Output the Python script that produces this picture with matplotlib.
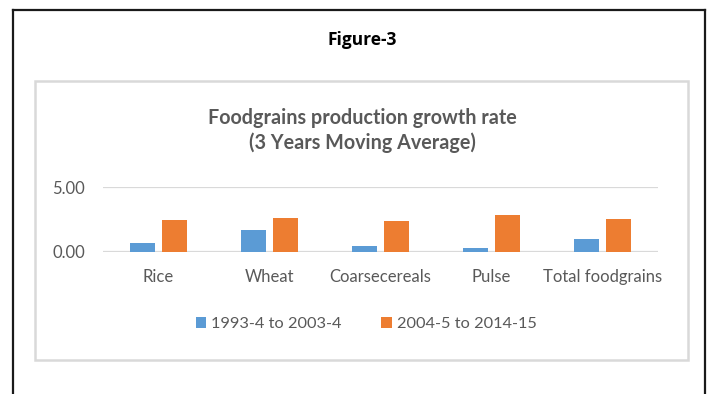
#!/usr/bin/env python3
"""Foodgrains production growth rate, grouped bar chart (3-year moving average)."""

import matplotlib
matplotlib.use("Agg")
import matplotlib.pyplot as plt
from matplotlib.lines import Line2D
from matplotlib.patches import Rectangle
import numpy as np

# ─── DATA ──────────────────────────────────────────────────────────────────────
CATEGORIES = ["Rice", "Wheat", "Coarsecereals", "Pulse", "Total foodgrains"]
PERIOD_1 = [0.69, 1.69, 0.46, 0.31, 1.00]   # 1993-4 to 2003-4
PERIOD_2 = [2.46, 2.62, 2.38, 2.85, 2.54]   # 2004-5 to 2014-15
SERIES_LABELS = ["1993-4 to 2003-4", "2004-5 to 2014-15"]
Y_TICKS = [0, 5]
# ────────────────────────────────────────────────────────────────────────────────

W, H = 708, 394
BLUE = "#5b9bd5"
ORANGE = "#ed7d31"
GREY_TXT = "#595959"
GRID = "#d9d9d9"

plt.rcParams["font.family"] = ["Lato", "DejaVu Sans"]

fig = plt.figure(figsize=(W / 100, H / 100), dpi=100)
fig.patch.set_facecolor("white")


def fx(px):
    return px / W


def fy(py):
    return 1 - py / H


# outer black frame (open at the bottom)
for xs, ys in [((13, 13), (10, H + 5)), ((13, 705), (10, 10)), ((705, 705), (10, H + 5))]:
    fig.add_artist(Line2D([fx(x) for x in xs], [fy(y) for y in ys],
                          transform=fig.transFigure, color="#1a1a1a", lw=1.6))

# light grey chart-area frame
fig.add_artist(Rectangle((fx(35), fy(360)), fx(688) - fx(35), fy(81) - fy(360),
                         transform=fig.transFigure, fill=False,
                         edgecolor=GRID, lw=1.8))

fig.text(fx(362), fy(40), "Figure-3", ha="center", va="center",
         fontsize=12.5, fontweight="bold", color="black",
         family=["Open Sans", "DejaVu Sans"])
fig.text(fx(362), fy(118), "Foodgrains production growth rate",
         ha="center", va="center", fontsize=14.2, fontweight="bold", color=GREY_TXT)
fig.text(fx(362), fy(143), "(3 Years Moving Average)",
         ha="center", va="center", fontsize=14.2, fontweight="bold", color=GREY_TXT)

ax = fig.add_axes([fx(103), fy(252), fx(658) - fx(103), fy(187) - fy(252)])
x = np.arange(len(CATEGORIES))
bw = 0.225
off = 0.14
b1 = ax.bar(x - off, PERIOD_1, bw, color=BLUE, zorder=3, label=SERIES_LABELS[0])
b2 = ax.bar(x + off, PERIOD_2, bw, color=ORANGE, zorder=3, label=SERIES_LABELS[1])

ax.set_xlim(-0.5, len(CATEGORIES) - 0.5)
ax.set_ylim(Y_TICKS[0], Y_TICKS[-1])
ax.set_yticks(Y_TICKS)
ax.set_yticklabels([f"{v:.2f}" for v in Y_TICKS])
ax.set_xticks(x)
ax.set_xticklabels(CATEGORIES)
for s in ax.spines.values():
    s.set_visible(False)
ax.yaxis.grid(True, color=GRID, lw=1.6, zorder=0)
ax.set_axisbelow(True)
ax.tick_params(axis="both", length=0, colors=GREY_TXT, labelsize=12)
ax.tick_params(axis="x", pad=12)
ax.tick_params(axis="y", pad=13)
ax.set_facecolor("none")

fig.legend(handles=[b1, b2], labels=SERIES_LABELS, loc="center",
           bbox_to_anchor=(fx(366), fy(324)), ncol=2, frameon=False,
           fontsize=11.8, handlelength=0.65, handleheight=0.65,
           handletextpad=0.3, columnspacing=2.4, labelcolor=GREY_TXT)

fig.savefig("out.png", dpi=100)
